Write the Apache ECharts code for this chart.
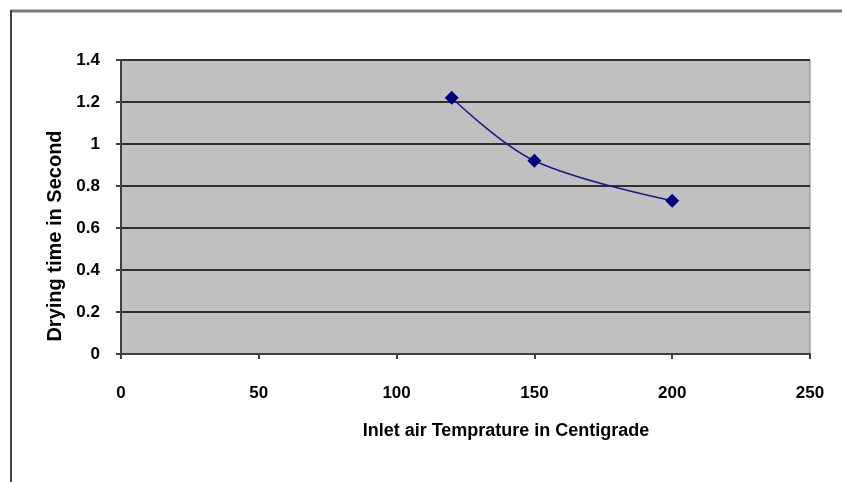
<!DOCTYPE html>
<html>
<head>
<meta charset="utf-8">
<script src="https://cdn.jsdelivr.net/npm/echarts@6/dist/echarts.min.js"></script>
<style>
  html, body { margin: 0; padding: 0; background: #fff; }
  #chart { width: 842px; height: 482px; }
</style>
</head>
<body>
<div id="chart"></div>
<script>
// inlet air temperature (°C) vs drying time (s)
var temps = [120, 150, 200];
var dryTimes = [1.22, 0.92, 0.73];
var xTicks = [0, 50, 100, 150, 200, 250];
var yTicks = [0, 0.2, 0.4, 0.6, 0.8, 1, 1.2, 1.4];

var points = [];
for (var i = 0; i < temps.length; i++) {
    points.push([temps[i], dryTimes[i]]);
}

var chart = echarts.init(document.getElementById('chart'), null, { renderer: 'canvas' });
var font = 'Liberation Sans, Arial, sans-serif';

var option = {
    animation: false,
    backgroundColor: '#fff',
    grid: {
        left: 121,
        top: 60,
        width: 689,
        height: 294,
        show: true,
        backgroundColor: '#c0c0c0',
        borderColor: '#808080',
        borderWidth: 1
    },
    graphic: [
        // outer frame (top and left only)
        { type: 'line', shape: { x1: 11, y1: 11, x2: 842, y2: 11 }, style: { stroke: '#7a7a7a', lineWidth: 3 } },
        { type: 'line', shape: { x1: 11, y1: 10, x2: 11, y2: 482 }, style: { stroke: '#444', lineWidth: 2 } },
        {
            type: 'text', x: 55, y: 236, rotation: Math.PI / 2,
            style: {
                text: 'Drying time in Second', fill: '#000',
                font: 'bold 20px ' + font, textAlign: 'center', textVerticalAlign: 'middle'
            }
        },
        {
            type: 'text', x: 506, y: 431,
            style: {
                text: 'Inlet air Temprature in Centigrade', fill: '#000',
                font: 'bold 18px ' + font, textAlign: 'center', textVerticalAlign: 'middle'
            }
        }
    ],
    xAxis: {
        type: 'value',
        min: xTicks[0],
        max: xTicks[xTicks.length - 1],
        interval: 50,
        axisLine: { show: true, lineStyle: { color: '#404040', width: 2 } },
        axisTick: { show: true, length: 5, lineStyle: { color: '#404040', width: 2 } },
        axisLabel: { color: '#000', fontSize: 17, fontWeight: 'bold', fontFamily: font, margin: 31 },
        splitLine: { show: false }
    },
    yAxis: {
        type: 'value',
        min: yTicks[0],
        max: yTicks[yTicks.length - 1],
        interval: 0.2,
        axisLine: { show: true, lineStyle: { color: '#404040', width: 2 } },
        axisTick: { show: true, length: 5, lineStyle: { color: '#404040', width: 2 } },
        axisLabel: {
            color: '#000', fontSize: 17, fontWeight: 'bold', fontFamily: font, margin: 21,
            formatter: function (v) { return String(Math.round(v * 10) / 10); }
        },
        splitLine: { show: true, lineStyle: { color: '#303030', width: 2 } }
    },
    series: [{
        type: 'line',
        data: points,
        smooth: 0.35,
        symbol: 'diamond',
        symbolSize: 14,
        itemStyle: { color: '#000080' },
        lineStyle: { color: '#1a1a8c', width: 1.5 }
    }]
};

chart.setOption(option);
</script>
</body>
</html>
